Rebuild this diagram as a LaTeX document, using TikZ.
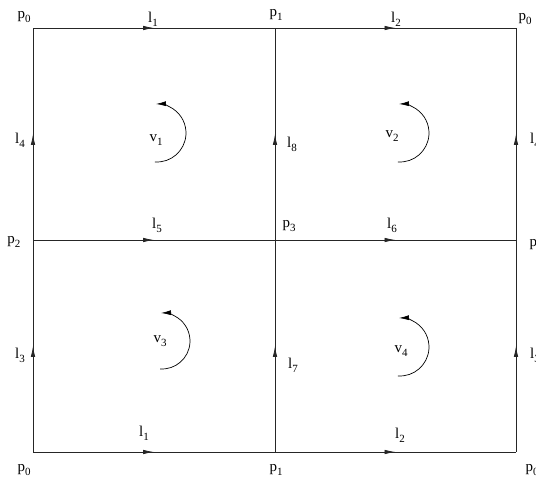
\documentclass[tikz,border=0pt]{standalone}
\usepackage{fontspec}
\setmainfont{Liberation Serif}
\usepackage{tikz}
\usetikzlibrary{arrows.meta,decorations.markings}
\tikzset{
  edge/.style={line width=0.8pt, draw=black!85,
    decoration={markings, mark=at position 0.5 with {\arrow{Latex[length=11pt,width=4.5pt]}}},
    postaction={decorate}},
  turn/.style={line width=0.7pt, -{Latex[length=10pt,width=5pt]}},
  vlabel/.style={inner sep=0pt, font=\fontsize{15}{17}\selectfont}
}
\newcommand{\lb}[2]{#1\raisebox{-4pt}{\fontsize{11}{11}\selectfont #2}}

\begin{document}
\begin{tikzpicture}[x=1pt, y=1pt]
  \useasboundingbox (0,0) rectangle (536,482);
  % vertices
  \coordinate (p0tl) at (33,454);
  \coordinate (p1t)  at (275,454);
  \coordinate (p0tr) at (516,454);
  \coordinate (p2l)  at (33,242);
  \coordinate (p3)   at (275,242);
  \coordinate (p2r)  at (516,242);
  \coordinate (p0bl) at (33,30);
  \coordinate (p1b)  at (275,30);
  \coordinate (p0br) at (516,30);
  % edges
  \draw[edge] (p0tl) -- (p1t);
  \draw[edge] (p1t) -- (p0tr);
  \draw[edge] (p2l) -- (p3);
  \draw[edge] (p3) -- (p2r);
  \draw[edge] (p0bl) -- (p1b);
  \draw[edge] (p1b) -- (p0br);
  \draw[edge] (p2l) -- (p0tl);
  \draw[edge] (p3) -- (p1t);
  \draw[edge] (p2r) -- (p0tr);
  \draw[edge] (p0bl) -- (p2l);
  \draw[edge] (p1b) -- (p3);
  \draw[edge] (p0br) -- (p2r);
  % point labels
  \node[vlabel] (tp0tl) at (24,465) {\lb{p}{0}};
  \node[vlabel] (tp1t)  at (276,467) {\lb{p}{1}};
  \node[vlabel] (tp0tr) at (525,463) {\lb{p}{0}};
  \node[vlabel] (tp2l)  at (14,240) {\lb{p}{2}};
  \node[vlabel] (tp3)   at (289,256) {\lb{p}{3}};
  \node[vlabel] (tp2r)  at (536,237) {\lb{p}{2}};
  \node[vlabel] (tp0br) at (532,12) {\lb{p}{0}};
  \node[vlabel] (tp0bl) at (24,12) {\lb{p}{0}};
  \node[vlabel] (tp1b)  at (276,12) {\lb{p}{1}};
  % edge labels
  \node[vlabel] (tl1t) at (153,463) {\lb{l}{1}};
  \node[vlabel] (tl2t) at (396,463) {\lb{l}{2}};
  \node[vlabel] (tl5)  at (157,257) {\lb{l}{5}};
  \node[vlabel] (tl6)  at (392,257) {\lb{l}{6}};
  \node[vlabel] (tl1b) at (144,49) {\lb{l}{1}};
  \node[vlabel] (tl2b) at (400,47) {\lb{l}{2}};
  \node[vlabel] (tl4l) at (20,342) {\lb{l}{4}};
  \node[vlabel] (tl8)  at (292,338) {\lb{l}{8}};
  \node[vlabel] (tl4r) at (535,342) {\lb{l}{4}};
  \node[vlabel] (tl3l) at (20,127) {\lb{l}{3}};
  \node[vlabel] (tl7)  at (293,117) {\lb{l}{7}};
  \node[vlabel] (tl3r) at (535,127) {\lb{l}{3}};
  % faces
  \coordinate (c1) at (157,349);
  \coordinate (c2) at (400,349);
  \coordinate (c3) at (162,141);
  \coordinate (c4) at (400,135);
  \node[vlabel] (tv1) at (156,342) {\lb{v}{1}};
  \node[vlabel] (tv2) at (392,346) {\lb{v}{2}};
  \node[vlabel] (tv3) at (160,141) {\lb{v}{3}};
  \node[vlabel] (tv4) at (401,131) {\lb{v}{4}};
  \draw[turn] ([shift={(-94:29)}]c1) arc (-94:92:29);
  \draw[turn] ([shift={(-94:29)}]c2) arc (-94:92:29);
  \draw[turn] ([shift={(-94:28)}]c3) arc (-94:92:28);
  \draw[turn] ([shift={(-94:29)}]c4) arc (-94:92:29);
\end{tikzpicture}
\end{document}
